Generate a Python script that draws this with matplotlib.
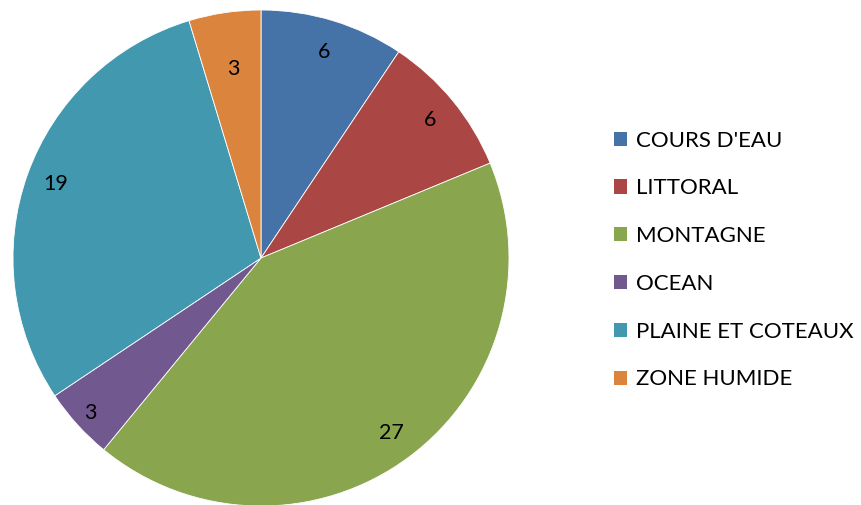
import matplotlib
matplotlib.use("Agg")
import matplotlib.pyplot as plt
from matplotlib.patches import Patch
import numpy as np

categories = ["COURS D'EAU", "LITTORAL", "MONTAGNE", "OCEAN", "PLAINE ET COTEAUX", "ZONE HUMIDE"]
values = [6, 6, 27, 3, 19, 3]
colors = ["#4572A7", "#AA4643", "#89A54E", "#71588F", "#4198AF", "#DB843D"]

plt.rcParams['font.family'] = ['Lato', 'DejaVu Sans']

W, H = 861, 505
fig = plt.figure(figsize=(W / 100, H / 100), dpi=100)
cx, cy, r = 261, 258, 248
ax = fig.add_axes([(cx - r) / W, (H - cy - r) / H, 2 * r / W, 2 * r / H])
wedges, texts = ax.pie(values, colors=colors, startangle=90, counterclock=False,
                       labels=[str(v) for v in values], labeldistance=0.88,
                       wedgeprops=dict(edgecolor="white", linewidth=0.6),
                       textprops=dict(fontsize=15.5, color="black", ha="center", va="center"))
# label placement (Excel best-fit style)
label_dist = [0.87, 0.88, 0.88, 0.93, 0.88, 0.77]
for w, t, d in zip(wedges, texts, label_dist):
    ang = np.deg2rad((w.theta1 + w.theta2) / 2)
    t.set_position((d * np.cos(ang), d * np.sin(ang)))
    t.set_ha("center")
    t.set_va("center")
ax.set_xlim(-1, 1)
ax.set_ylim(-1, 1)
ax.set_aspect('auto')
ax.axis('off')

handles = [Patch(facecolor=c, edgecolor='none') for c in colors]
fig.legend(handles, categories, loc='center left', bbox_to_anchor=(614 / W, (H - 260) / H),
           frameon=False, fontsize=16, handlelength=0.6, handleheight=0.6,
           handletextpad=0.4, labelspacing=1.25, borderaxespad=0, borderpad=0)

fig.savefig("out.png", dpi=100)
